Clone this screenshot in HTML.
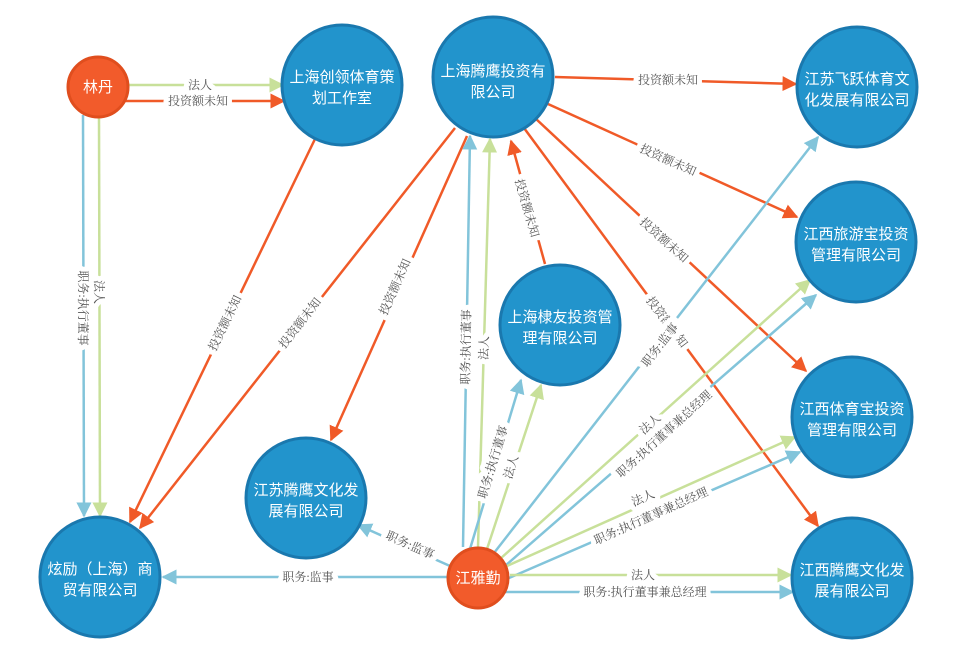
<!DOCTYPE html>
<html><head><meta charset="utf-8"><style>
html,body{margin:0;padding:0;background:#fff;}
svg{display:block}
.n{font-family:"Liberation Sans","Noto Sans CJK SC",sans-serif;font-size:15px;fill:#fff;text-anchor:middle}
.l{font-family:"Liberation Serif","Noto Serif CJK SC","Noto Sans CJK SC",serif;font-size:12px;fill:#555;text-anchor:middle;dominant-baseline:central;stroke:#fff;stroke-width:10px;paint-order:stroke;stroke-linejoin:round}
.o{stroke:#f05a28;stroke-width:2.5;fill:none}
.g{stroke:#c8e09a;stroke-width:2.5;fill:none}
.b{stroke:#82c4da;stroke-width:2.5;fill:none}
</style></head><body>
<svg width="960" height="661" viewBox="0 0 960 661" xmlns="http://www.w3.org/2000/svg">
<defs>
<marker id="mo" viewBox="0 0 10 10" refX="9" refY="5" markerWidth="6" markerHeight="6" orient="auto" markerUnits="strokeWidth"><path d="M0,0L10,5L0,10z" fill="#f05a28"/></marker>
<marker id="mg" viewBox="0 0 10 10" refX="9" refY="5" markerWidth="6" markerHeight="6" orient="auto" markerUnits="strokeWidth"><path d="M0,0L10,5L0,10z" fill="#c8e09a"/></marker>
<marker id="mb" viewBox="0 0 10 10" refX="9" refY="5" markerWidth="6" markerHeight="6" orient="auto" markerUnits="strokeWidth"><path d="M0,0L10,5L0,10z" fill="#82c4da"/></marker>
</defs>
<line class="g" x1="129" y1="85" x2="283" y2="85" marker-end="url(#mg)"/>
<line class="o" x1="125" y1="101" x2="284" y2="101" marker-end="url(#mo)"/>
<line class="b" x1="83" y1="115" x2="84" y2="516" marker-end="url(#mb)"/>
<line class="g" x1="99" y1="117" x2="100" y2="516" marker-end="url(#mg)"/>
<line class="o" x1="315" y1="139" x2="130" y2="522" marker-end="url(#mo)"/>
<line class="o" x1="455" y1="128" x2="140" y2="528" marker-end="url(#mo)"/>
<line class="o" x1="467" y1="136" x2="331" y2="440" marker-end="url(#mo)"/>
<line class="o" x1="555" y1="77" x2="796" y2="84" marker-end="url(#mo)"/>
<line class="o" x1="548" y1="104" x2="797" y2="217" marker-end="url(#mo)"/>
<line class="o" x1="535" y1="118" x2="806" y2="371" marker-end="url(#mo)"/>
<line class="o" x1="524" y1="128" x2="818" y2="526" marker-end="url(#mo)"/>
<line class="o" x1="545" y1="264" x2="511" y2="141" marker-end="url(#mo)"/>
<line class="b" x1="463" y1="547" x2="470" y2="136" marker-end="url(#mb)"/>
<line class="g" x1="478" y1="547" x2="490" y2="139" marker-end="url(#mg)"/>
<line class="b" x1="470" y1="549" x2="521" y2="380" marker-end="url(#mb)"/>
<line class="g" x1="487" y1="549" x2="541" y2="385" marker-end="url(#mg)"/>
<line class="b" x1="494" y1="553" x2="818" y2="137" marker-end="url(#mb)"/>
<line class="g" x1="500" y1="559" x2="810" y2="280" marker-end="url(#mg)"/>
<line class="b" x1="505" y1="566" x2="816" y2="295" marker-end="url(#mb)"/>
<line class="g" x1="507" y1="566" x2="795" y2="437" marker-end="url(#mg)"/>
<line class="b" x1="509" y1="578" x2="800" y2="452" marker-end="url(#mb)"/>
<line class="g" x1="510" y1="575" x2="791" y2="575" marker-end="url(#mg)"/>
<line class="b" x1="505" y1="592" x2="793" y2="592" marker-end="url(#mb)"/>
<line class="b" x1="450" y1="566" x2="358" y2="525" marker-end="url(#mb)"/>
<line class="b" x1="447" y1="577" x2="163" y2="577" marker-end="url(#mb)"/>
<text class="l" x="200" y="85">法人</text>
<text class="l" x="198" y="101">投资额未知</text>
<text class="l" transform="translate(83,308) rotate(90)">职务:执行董事</text>
<text class="l" transform="translate(99,292) rotate(90)">法人</text>
<text class="l" transform="translate(225,323) rotate(-64)">投资额未知</text>
<text class="l" transform="translate(300,323) rotate(-52)">投资额未知</text>
<text class="l" transform="translate(395,287) rotate(-66)">投资额未知</text>
<text class="l" x="668" y="80">投资额未知</text>
<text class="l" transform="translate(668,160) rotate(24)">投资额未知</text>
<text class="l" transform="translate(664,240) rotate(42)">投资额未知</text>
<text class="l" transform="translate(667,322) rotate(53)">投资额未知</text>
<text class="l" transform="translate(527,208) rotate(74)">投资额未知</text>
<text class="l" transform="translate(466,347) rotate(-89)">职务:执行董事</text>
<text class="l" transform="translate(484,348) rotate(-88)">法人</text>
<text class="l" transform="translate(493,462) rotate(-73)">职务:执行董事</text>
<text class="l" transform="translate(511,467) rotate(-73)">法人</text>
<text class="l" transform="translate(660,345) rotate(-52)">职务:监事</text>
<text class="l" transform="translate(650,424) rotate(-42)">法人</text>
<text class="l" transform="translate(664,434) rotate(-42)">职务:执行董事兼总经理</text>
<text class="l" transform="translate(643,498) rotate(-24)">法人</text>
<text class="l" transform="translate(651,516) rotate(-24)">职务:执行董事兼总经理</text>
<text class="l" x="643" y="575">法人</text>
<text class="l" x="645" y="592">职务:执行董事兼总经理</text>
<text class="l" transform="translate(410,545) rotate(24)">职务:监事</text>
<text class="l" x="308" y="577">职务:监事</text>
<g stroke="#1a78ae" stroke-width="3" fill="#2294cc">
<circle cx="342" cy="85" r="60"/>
<circle cx="493" cy="77" r="60"/>
<circle cx="857" cy="87" r="60"/>
<circle cx="856" cy="242" r="60"/>
<circle cx="560" cy="325" r="60"/>
<circle cx="852" cy="417" r="60"/>
<circle cx="306" cy="498" r="60"/>
<circle cx="852" cy="578" r="60"/>
<circle cx="100" cy="577" r="60"/>
</g>
<g stroke="#e04e1e" stroke-width="3" fill="#f25b2b">
<circle cx="98" cy="87" r="30"/>
<circle cx="478" cy="578" r="30"/>
</g>
<text class="n" x="98" y="92">林丹</text>
<text class="n" x="478" y="583">江雅勤</text>
<text class="n" x="342" y="82">上海创领体育策</text><text class="n" x="342" y="103">划工作室</text>
<text class="n" x="493" y="76">上海腾鹰投资有</text><text class="n" x="493" y="97">限公司</text>
<text class="n" x="857" y="84">江苏飞跃体育文</text><text class="n" x="857" y="105">化发展有限公司</text>
<text class="n" x="856" y="239">江西旅游宝投资</text><text class="n" x="856" y="260">管理有限公司</text>
<text class="n" x="560" y="322">上海棣友投资管</text><text class="n" x="560" y="343">理有限公司</text>
<text class="n" x="852" y="414">江西体育宝投资</text><text class="n" x="852" y="435">管理有限公司</text>
<text class="n" x="306" y="495">江苏腾鹰文化发</text><text class="n" x="306" y="516">展有限公司</text>
<text class="n" x="852" y="575">江西腾鹰文化发</text><text class="n" x="852" y="596">展有限公司</text>
<text class="n" x="100" y="574">炫励（上海）商</text><text class="n" x="100" y="595">贸有限公司</text>
</svg>
</body></html>
